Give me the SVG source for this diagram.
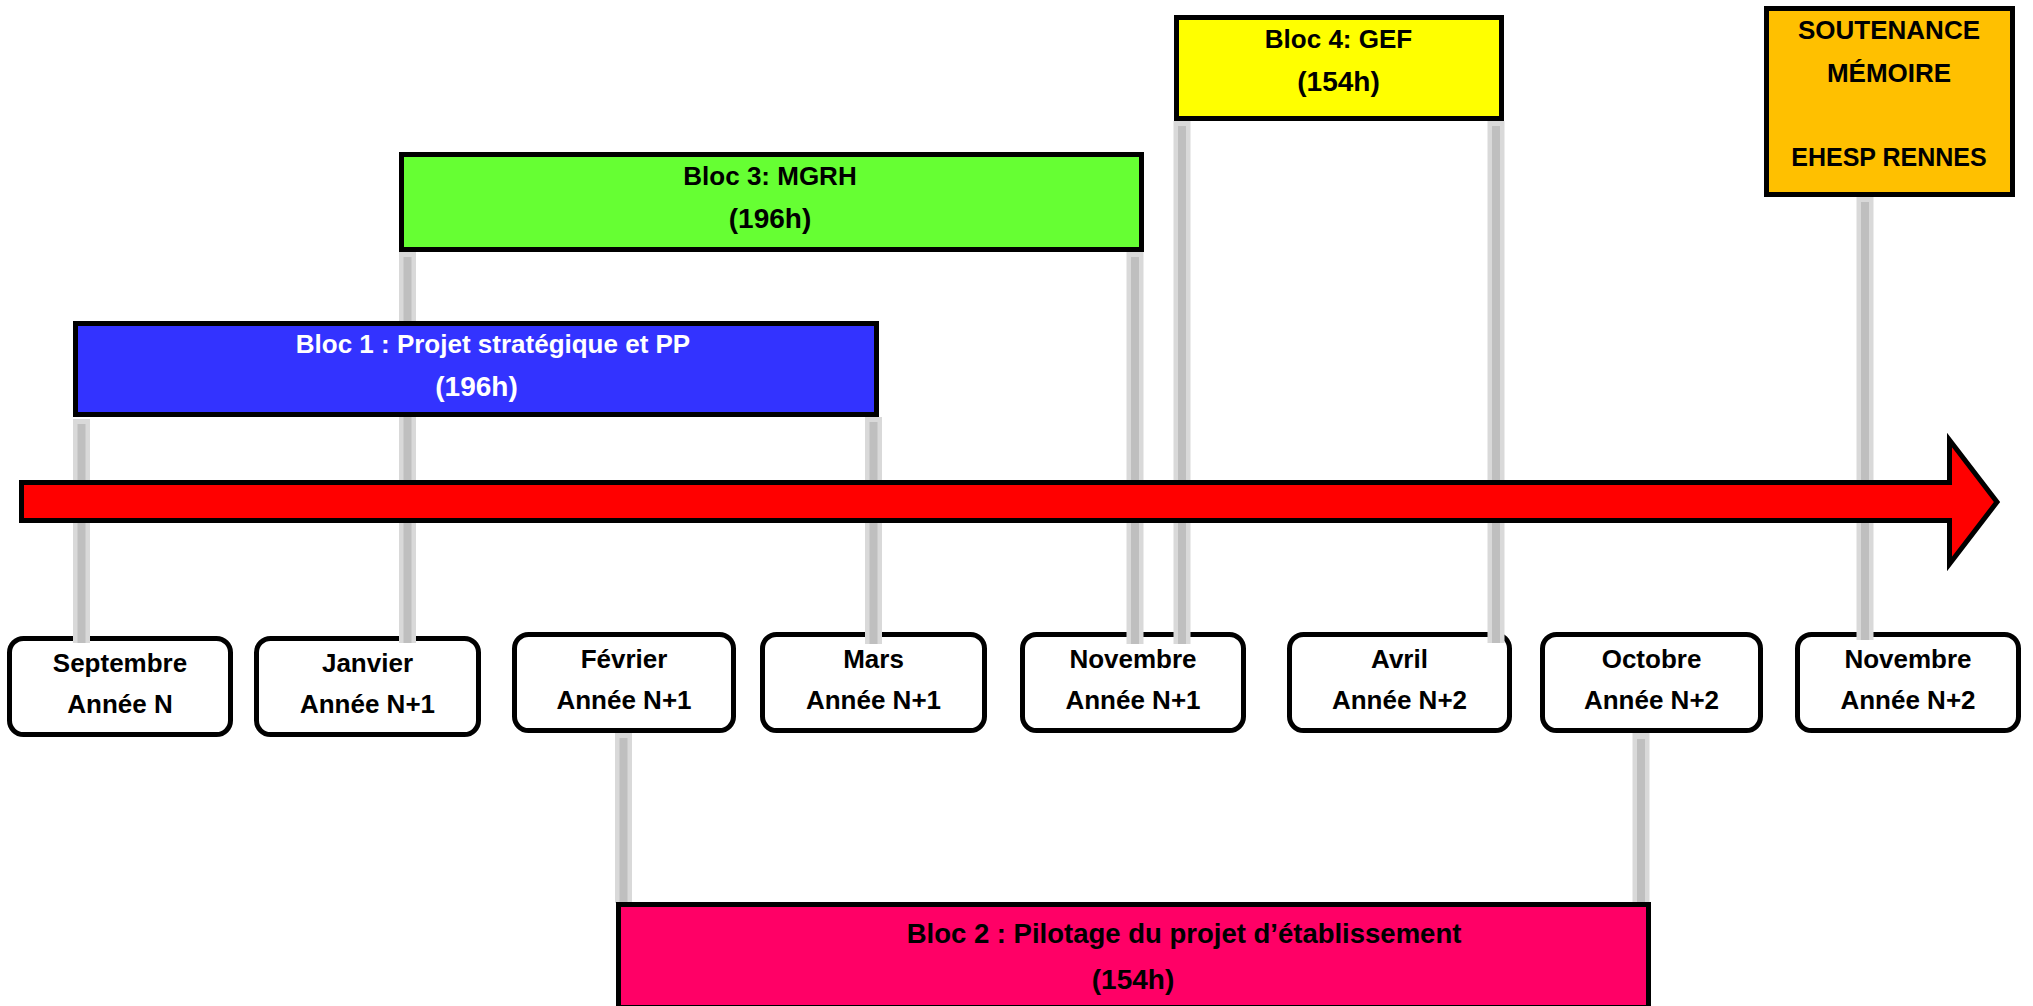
<svg xmlns="http://www.w3.org/2000/svg" width="2033" height="1006" viewBox="0 0 2033 1006">
<style>
  text { font-family: "Liberation Sans", Arial, sans-serif; font-weight: bold; font-size: 26px; text-anchor: middle; fill: #000; }
  .hours { font-size: 28px; }
  .month rect { fill: #fff; stroke: #000; stroke-width: 5; }
  .blk { stroke: #000; stroke-width: 5; }
  .halo { stroke: #d9d9d9; stroke-width: 17; fill: none; }
  .core { stroke: #bfbfbf; stroke-width: 8; fill: none; }
  .white { fill: #fff; }
</style>
<rect x="0" y="0" width="2033" height="1006" fill="#fff"/>

<!-- month nodes -->
<g id="m-sept" class="month"><rect x="9.5" y="638.5" width="221" height="96" rx="14"/><text x="120" y="672">Septembre</text><text x="120" y="713">Année N</text></g>
<g id="m-janv" class="month"><rect x="256.5" y="638.5" width="222" height="96" rx="14"/><text x="367.5" y="672">Janvier</text><text x="367.5" y="713">Année N+1</text></g>
<g id="m-fev" class="month"><rect x="514.5" y="634.5" width="219" height="96" rx="14"/><text x="624" y="668">Février</text><text x="624" y="709">Année N+1</text></g>
<g id="m-mars" class="month"><rect x="762.5" y="634.5" width="222" height="96" rx="14"/><text x="873.5" y="668">Mars</text><text x="873.5" y="709">Année N+1</text></g>
<g id="m-nov1" class="month"><rect x="1022.5" y="634.5" width="221" height="96" rx="14"/><text x="1133" y="668">Novembre</text><text x="1133" y="709">Année N+1</text></g>
<g id="m-avril" class="month"><rect x="1289.5" y="634.5" width="220" height="96" rx="14"/><text x="1399.5" y="668">Avril</text><text x="1399.5" y="709">Année N+2</text></g>
<g id="m-oct" class="month"><rect x="1542.5" y="634.5" width="218" height="96" rx="14"/><text x="1651.5" y="668">Octobre</text><text x="1651.5" y="709">Année N+2</text></g>
<g id="m-nov2" class="month"><rect x="1797.5" y="634.5" width="221" height="96" rx="14"/><text x="1908" y="668">Novembre</text><text x="1908" y="709">Année N+2</text></g>

<!-- connectors -->
<g id="connectors">
  <line class="halo" x1="81.5" y1="419" x2="81.5" y2="643"/><line class="core" x1="81.5" y1="424" x2="81.5" y2="643"/>
  <line class="halo" x1="407.5" y1="252" x2="407.5" y2="643"/><line class="core" x1="407.5" y1="257" x2="407.5" y2="643"/>
  <line class="halo" x1="873.5" y1="417" x2="873.5" y2="644"/><line class="core" x1="873.5" y1="422" x2="873.5" y2="644"/>
  <line class="halo" x1="1135" y1="252" x2="1135" y2="644"/><line class="core" x1="1135" y1="257" x2="1135" y2="644"/>
  <line class="halo" x1="1182" y1="121" x2="1182" y2="644"/><line class="core" x1="1182" y1="126" x2="1182" y2="644"/>
  <line class="halo" x1="1496" y1="121" x2="1496" y2="643"/><line class="core" x1="1496" y1="126" x2="1496" y2="643"/>
  <line class="halo" x1="1865" y1="197" x2="1865" y2="640"/><line class="core" x1="1865" y1="202" x2="1865" y2="640"/>
  <line class="halo" x1="623.5" y1="733" x2="623.5" y2="903"/><line class="core" x1="623.5" y1="738" x2="623.5" y2="903"/>
  <line class="halo" x1="1641" y1="733" x2="1641" y2="902"/><line class="core" x1="1641" y1="739" x2="1641" y2="902"/>
</g>

<!-- timeline arrow -->
<g id="timeline">
  <path d="M21.5,482.5 L1949.5,482.5 L1949.5,440 L1997,502 L1949.5,564 L1949.5,520.5 L21.5,520.5 Z" fill="#ff0000" stroke="#000" stroke-width="5" stroke-linejoin="miter"/>
</g>

<!-- blocks -->
<g id="bloc1">
  <rect class="blk" x="75.5" y="323.5" width="801" height="91" fill="#3333ff"/>
  <text class="white" x="493" y="353">Bloc 1 : Projet stratégique et PP</text>
  <text class="white hours" x="476.5" y="396">(196h)</text>
</g>
<g id="bloc3">
  <rect class="blk" x="401.5" y="154.5" width="740" height="95" fill="#66ff33"/>
  <text x="770" y="185">Bloc 3: MGRH</text>
  <text class="hours" x="770" y="228">(196h)</text>
</g>
<g id="bloc4">
  <rect class="blk" x="1176.5" y="17.5" width="325" height="101" fill="#ffff00"/>
  <text x="1338.5" y="48">Bloc 4: GEF</text>
  <text class="hours" x="1338.5" y="91">(154h)</text>
</g>
<g id="soutenance">
  <rect class="blk" x="1766.5" y="8.5" width="246" height="186" fill="#ffc000"/>
  <text x="1889" y="39">SOUTENANCE</text>
  <text x="1889" y="82">MÉMOIRE</text>
  <text x="1889" y="166" style="font-size:25px">EHESP RENNES</text>
</g>
<g id="bloc2">
  <rect class="blk" x="618.5" y="904.5" width="1030" height="103" fill="#ff0066"/>
  <text x="1184" y="943" style="font-size:27.5px">Bloc 2 : Pilotage du projet d’établissement</text>
  <text class="hours" x="1133" y="989">(154h)</text>
</g>
</svg>
